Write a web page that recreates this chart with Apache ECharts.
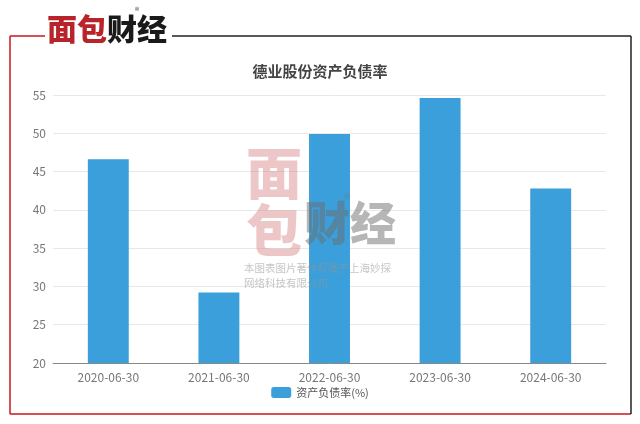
<!DOCTYPE html>
<html><head><meta charset="utf-8">
<script src="https://cdn.jsdelivr.net/npm/echarts@6/dist/echarts.min.js"></script>
<style>html,body{margin:0;padding:0;background:#fff;}#c{width:640px;height:424px;}</style>
</head><body><div id="c"></div>
<script>
const categories = ['2020-06-30','2021-06-30','2022-06-30','2023-06-30','2024-06-30'];
const debtRatio = [46.6, 29.2, 49.9, 54.6, 42.8];
const seriesName = '资产负债率(%)';
const titleText = '德业股份资产负债率';

const font = '"Noto Sans CJK SC", "Noto Sans", sans-serif';
const chart = echarts.init(document.getElementById('c'));
chart.setOption({
  backgroundColor: '#fff',
  animation: false,
  title: {
    text: titleText, left: 'center', top: 59,
    textStyle: {fontFamily: font, fontSize: 15, fontWeight: 'bold', color: '#444'}
  },
  legend: {
    data: [seriesName], bottom: 21, left: 'center',
    itemWidth: 20, itemHeight: 11, itemGap: 6,
    textStyle: {fontFamily: font, fontSize: 11, color: '#555'}
  },
  grid: {left: 53, right: 34, top: 95, bottom: 61},
  xAxis: {
    type: 'category', data: categories,
    axisLine: {lineStyle: {color: '#888'}},
    axisTick: {lineStyle: {color: '#888'}, length: 4},
    axisLabel: {fontFamily: font, fontSize: 12, color: '#777', margin: 8}
  },
  yAxis: {
    type: 'value', min: 20, max: 55, interval: 5,
    axisLine: {show: false}, axisTick: {show: false},
    axisLabel: {fontFamily: font, fontSize: 12, color: '#777', margin: 7},
    splitLine: {lineStyle: {color: '#e8e8e8'}}
  },
  series: [{
    name: seriesName, type: 'bar', data: debtRatio,
    barWidth: '37%', itemStyle: {color: '#3a9fda'}
  }],
  graphic: [
    {type: 'line', shape: {x1: 10, y1: 36, x2: 10, y2: 414}, style: {stroke: '#c8161d', lineWidth: 1.5}, z: 100},
    {type: 'line', shape: {x1: 10, y1: 414, x2: 631, y2: 414}, style: {stroke: '#c8161d', lineWidth: 1.5}, z: 100},
    {type: 'line', shape: {x1: 631, y1: 36, x2: 631, y2: 414}, style: {stroke: '#222', lineWidth: 1.5}, z: 100},
    {type: 'line', shape: {x1: 10, y1: 36, x2: 45, y2: 36}, style: {stroke: '#c8161d', lineWidth: 1.5}, z: 100},
    {type: 'line', shape: {x1: 172, y1: 36, x2: 631, y2: 36}, style: {stroke: '#222', lineWidth: 1.5}, z: 100},
    {type: 'text', left: 47, top: 14, z: 100, style: {text: '面包', fill: '#b8242a', font: '900 30px ' + font}},
    {type: 'text', left: 107, top: 14, z: 100, style: {text: '财经', fill: '#1a1a1a', font: '900 30px ' + font}},
    {type: 'text', left: 135, top: 6, z: 100, style: {text: '®', fill: '#444', font: '9px ' + font}},
    {type: 'text', left: 246, top: 145, z: 50, style: {text: '面', fill: 'rgba(214,130,134,0.45)', font: '900 56px ' + font}},
    {type: 'text', left: 246, top: 202, z: 50, style: {text: '包', fill: 'rgba(214,130,134,0.45)', font: '900 56px ' + font}},
    {type: 'text', left: 304, top: 200, z: 50, style: {text: '财经', fill: 'rgba(110,110,110,0.5)', font: '900 46px ' + font}},
    {type: 'text', left: 344, top: 192, z: 50, style: {text: '®', fill: 'rgba(120,120,120,0.5)', font: '14px ' + font}},
    {type: 'text', left: 244, top: 263, z: 50, style: {text: '本图表图片著作权属于上海妙探', fill: 'rgba(150,150,150,0.55)', font: '10.5px ' + font}},
    {type: 'text', left: 244, top: 278, z: 50, style: {text: '网络科技有限公司', fill: 'rgba(150,150,150,0.55)', font: '10.5px ' + font}}
  ]
});
</script></body></html>
